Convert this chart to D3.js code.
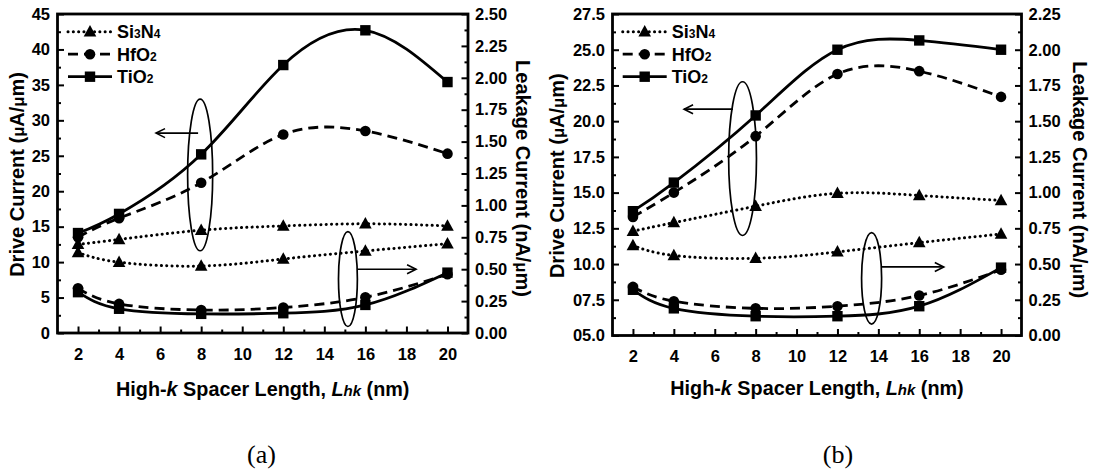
<!DOCTYPE html>
<html>
<head>
<meta charset="utf-8">
<script src="https://cdn.jsdelivr.net/npm/d3@7"></script>
<style>
  html, body { margin: 0; padding: 0; background: #fff; }
  svg { display: block; font-family: "Liberation Sans", Arial, sans-serif; }
</style>
</head>
<body>
<svg id="chart" width="1097" height="472"></svg>
<script>
// Spacer lengths (nm) at which each device was simulated
const spacerLength = [2, 4, 8, 12, 16, 20];

// Panel (a): drive current (uA/um)
const driveA_Si3N4 = [12.5, 13.2, 14.5, 15.1, 15.4, 15.1];
const driveA_HfO2  = [13.5, 16.2, 21.2, 28.0, 28.5, 25.3];
const driveA_TiO2  = [14.1, 16.8, 25.2, 37.8, 42.7, 35.4];
// Panel (a): leakage current (nA/um)
const leakA_Si3N4 = [0.63, 0.555, 0.525, 0.58, 0.643, 0.70];
const leakA_HfO2  = [0.35, 0.228, 0.18, 0.20, 0.28, 0.46];
const leakA_TiO2  = [0.32, 0.19, 0.15, 0.155, 0.22, 0.473];

// Panel (b): drive current (uA/um)
const driveB_Si3N4 = [12.3, 12.9, 14.05, 14.95, 14.8, 14.45];
const driveB_HfO2  = [13.3, 15.0, 18.95, 23.3, 23.5, 21.7];
const driveB_TiO2  = [13.7, 15.7, 20.4, 25.0, 25.65, 25.0];
// Panel (b): leakage current (nA/um)
const leakB_Si3N4 = [0.63, 0.56, 0.54, 0.585, 0.65, 0.71];
const leakB_HfO2  = [0.34, 0.24, 0.19, 0.205, 0.28, 0.46];
const leakB_TiO2  = [0.32, 0.19, 0.135, 0.135, 0.205, 0.475];

// Axis tick labels
const xTickLabels = [2, 4, 6, 8, 10, 12, 14, 16, 18, 20];
const leftTicksA  = [0, 5, 10, 15, 20, 25, 30, 35, 40, 45];
const rightTicksA = [0, 0.25, 0.5, 0.75, 1.0, 1.25, 1.5, 1.75, 2.0, 2.25, 2.5];
const leftTicksB  = [5, 7.5, 10, 12.5, 15, 17.5, 20, 22.5, 25, 27.5];
const rightTicksB = [0, 0.25, 0.5, 0.75, 1.0, 1.25, 1.5, 1.75, 2.0, 2.25];

const materials = ["Si3N4", "HfO2", "TiO2"];

const svg = d3.select("#chart");

const styleOf = {
  Si3N4: { dash: "0.1,5.2", width: 3, cap: "round", marker: "triangle" },
  HfO2:  { dash: "10,6", width: 2.8, cap: "butt", marker: "circle" },
  TiO2:  { dash: null, width: 2.8, cap: "butt", marker: "square" }
};

function drawMarker(g, type, x, y) {
  if (type === "circle") {
    g.append("circle").attr("cx", x).attr("cy", y).attr("r", 5.3).attr("fill", "#000");
  } else if (type === "square") {
    g.append("rect").attr("x", x - 5.2).attr("y", y - 5.2).attr("width", 10.4).attr("height", 10.4).attr("fill", "#000");
  } else {
    g.append("path")
      .attr("d", `M${x},${y - 6.8}L${x + 6.3},${y + 4.7}L${x - 6.3},${y + 4.7}Z`)
      .attr("fill", "#000");
  }
}

function subText(sel, parts, subSize) {
  parts.forEach(p => {
    const t = sel.append("tspan").text(p.t);
    if (p.sub) t.attr("font-size", subSize);
    if (p.it) t.attr("font-style", "italic");
  });
}

function drawPanel(cfg) {
  const { x0, x1, y0, y1 } = cfg.box;
  const g = svg.append("g");

  const x = d3.scaleLinear().domain([1, 21]).range([x0, x1]);
  const yL = d3.scaleLinear().domain(cfg.leftDomain).range([y1, y0]);
  const yR = d3.scaleLinear().domain(cfg.rightDomain).range([y1, y0]);

  // Minor ticks
  const minorX = d3.range(3, 21, 2);
  g.append("g").attr("transform", `translate(0,${y1})`)
    .call(d3.axisBottom(x).tickValues(minorX).tickSize(-3.5).tickFormat(""))
    .call(s => s.select(".domain").remove());
  const lStep = cfg.leftTicks[1] - cfg.leftTicks[0];
  const minorL = cfg.leftTicks.slice(0, -1).map(v => v + lStep / 2);
  g.append("g").attr("transform", `translate(${x0},0)`)
    .call(d3.axisLeft(yL).tickValues(minorL).tickSize(-3.5).tickFormat(""))
    .call(s => s.select(".domain").remove());
  const rStep = cfg.rightTicks[1] - cfg.rightTicks[0];
  const minorR = cfg.rightTicks.slice(0, -1).map(v => v + rStep / 2);
  g.append("g").attr("transform", `translate(${x1},0)`)
    .call(d3.axisRight(yR).tickValues(minorR).tickSize(-3.5).tickFormat(""))
    .call(s => s.select(".domain").remove());

  // Major ticks with labels
  const ax = g.append("g").attr("transform", `translate(0,${y1})`)
    .call(d3.axisBottom(x).tickValues(xTickLabels).tickSize(-6.5).tickPadding(15).tickFormat(d3.format("d")));
  const al = g.append("g").attr("transform", `translate(${x0},0)`)
    .call(d3.axisLeft(yL).tickValues(cfg.leftTicks).tickSize(-6.5).tickPadding(7.5).tickFormat(cfg.leftFormat));
  const ar = g.append("g").attr("transform", `translate(${x1},0)`)
    .call(d3.axisRight(yR).tickValues(cfg.rightTicks).tickSize(-6.5).tickPadding(7).tickFormat(d3.format(".2f")));
  [ax, al, ar].forEach(a => {
    a.select(".domain").remove();
    a.selectAll(".tick text").attr("font-size", 16.5).attr("font-weight", "bold").attr("fill", "#000")
      .attr("font-family", "'Liberation Sans', Arial, sans-serif");
  });
  g.selectAll(".tick line").attr("stroke", "#000").attr("stroke-width", 2);

  // Frame
  g.append("rect").attr("x", x0).attr("y", y0).attr("width", x1 - x0).attr("height", y1 - y0)
    .attr("fill", "none").attr("stroke", "#000").attr("stroke-width", 2.8);

  // Series
  const series = [];
  materials.forEach(m => series.push({ m, vals: cfg.drive[m], y: yL }));
  materials.forEach(m => series.push({ m, vals: cfg.leak[m], y: yR }));
  series.forEach(s => {
    const st = styleOf[s.m];
    const pts = spacerLength.map((v, i) => [x(v), s.y(s.vals[i])]);
    const line = d3.line().curve(d3.curveNatural);
    g.append("path").attr("d", line(pts)).attr("fill", "none").attr("stroke", "#000")
      .attr("stroke-width", st.width).attr("stroke-linecap", st.cap)
      .attr("stroke-dasharray", st.dash);
    pts.forEach(p => drawMarker(g, st.marker, p[0], p[1]));
  });

  // Annotation ellipses with arrows pointing to their axes
  cfg.notes.forEach(n => {
    const ys = n.axis === "left" ? yL : yR;
    const cx = x(n.cx), cy = ys(n.cy);
    const rx = Math.abs(x(n.cx + n.rx) - cx), ry = Math.abs(ys(n.cy + n.ry) - cy);
    g.append("ellipse").attr("cx", cx).attr("cy", cy).attr("rx", rx).attr("ry", ry)
      .attr("fill", "none").attr("stroke", "#000").attr("stroke-width", 1.7);
    const ax0 = x(n.from), ax1 = x(n.to), ay = ys(n.ay);
    const dir = ax1 > ax0 ? 1 : -1;
    g.append("line").attr("x1", ax0).attr("y1", ay).attr("x2", ax1).attr("y2", ay)
      .attr("stroke", "#000").attr("stroke-width", 1.6);
    g.append("path")
      .attr("d", `M${ax1 - dir * 9},${ay - 4.5}L${ax1},${ay}L${ax1 - dir * 9},${ay + 4.5}`)
      .attr("fill", "none").attr("stroke", "#000").attr("stroke-width", 1.6);
  });

  // Legend
  const legendLabels = {
    Si3N4: [{ t: "Si" }, { t: "3", sub: true }, { t: "N" }, { t: "4", sub: true }],
    HfO2: [{ t: "HfO" }, { t: "2", sub: true }],
    TiO2: [{ t: "TiO" }, { t: "2", sub: true }]
  };
  materials.forEach((m, i) => {
    const st = styleOf[m];
    const ly = cfg.legend.y + i * 22.5;
    g.append("line").attr("x1", cfg.legend.x).attr("x2", cfg.legend.x + 44)
      .attr("y1", ly).attr("y2", ly).attr("stroke", "#000").attr("stroke-width", st.width)
      .attr("stroke-linecap", st.cap).attr("stroke-dasharray", st.dash);
    drawMarker(g, st.marker, cfg.legend.x + 22, ly);
    const t = g.append("text").attr("x", cfg.legend.x + 49).attr("y", ly + 6.5)
      .attr("font-size", 18).attr("font-weight", "bold");
    subText(t, legendLabels[m], 12);
  });

  // Axis titles
  const xt = g.append("text").attr("x", (x0 + x1) / 2).attr("y", cfg.xTitleY)
    .attr("text-anchor", "middle").attr("font-size", 19.8).attr("font-weight", "bold");
  subText(xt, [{ t: "High-" }, { t: "k", it: true }, { t: " Spacer Length, " }, { t: "L", it: true },
    { t: "hk", it: true, sub: true }, { t: " (nm)" }], 15);

  const cyMid = (y0 + y1) / 2;
  const lt = g.append("text")
    .attr("transform", `translate(${cfg.leftTitleX},${cyMid + 1}) rotate(-90)`)
    .attr("text-anchor", "middle").attr("font-size", 20).attr("font-weight", "bold");
  subText(lt, [{ t: "Drive Current (" }, { t: "μ", sub: true }, { t: "A/" }, { t: "μ", sub: true }, { t: "m)" }], 16.5);

  const rt = g.append("text")
    .attr("transform", `translate(${cfg.rightTitleX},${cyMid + 5}) rotate(90)`)
    .attr("text-anchor", "middle").attr("font-size", 20).attr("font-weight", "bold");
  subText(rt, [{ t: "Leakage Current (nA/" }, { t: "μ", sub: true }, { t: "m)" }], 16.5);

  // Panel caption
  svg.append("text").attr("x", cfg.caption.x).attr("y", cfg.caption.y)
    .attr("text-anchor", "middle").attr("font-family", "'Liberation Serif', 'Times New Roman', serif")
    .attr("font-size", 26).text(cfg.caption.text);
}

drawPanel({
  box: { x0: 57.5, x1: 468, y0: 14, y1: 333 },
  leftDomain: [0, 45], rightDomain: [0, 2.5],
  leftTicks: leftTicksA, rightTicks: rightTicksA,
  leftFormat: d3.format("d"),
  drive: { Si3N4: driveA_Si3N4, HfO2: driveA_HfO2, TiO2: driveA_TiO2 },
  leak: { Si3N4: leakA_Si3N4, HfO2: leakA_HfO2, TiO2: leakA_TiO2 },
  notes: [
    { axis: "left", cx: 7.95, cy: 22.3, rx: 0.61, ry: 10.7, from: 7.85, to: 5.8, ay: 28.2 },
    { axis: "right", cx: 15.15, cy: 0.423, rx: 0.46, ry: 0.372, from: 15.6, to: 18.47, ay: 0.5 }
  ],
  legend: { x: 68, y: 31.7 },
  xTitleY: 396, leftTitleX: 24, rightTitleX: 516,
  caption: { x: 261.5, y: 463, text: "(a)" }
});

drawPanel({
  box: { x0: 612.5, x1: 1021.5, y0: 14, y1: 335.5 },
  leftDomain: [5, 27.5], rightDomain: [0, 2.25],
  leftTicks: leftTicksB, rightTicks: rightTicksB,
  leftFormat: d3.format("04.1f"),
  drive: { Si3N4: driveB_Si3N4, HfO2: driveB_HfO2, TiO2: driveB_TiO2 },
  leak: { Si3N4: leakB_Si3N4, HfO2: leakB_HfO2, TiO2: leakB_TiO2 },
  notes: [
    { axis: "left", cx: 7.36, cy: 17.38, rx: 0.68, ry: 5.38, from: 6.89, to: 4.5, ay: 20.84 },
    { axis: "right", cx: 13.67, cy: 0.40, rx: 0.49, ry: 0.32, from: 14.16, to: 17.2, ay: 0.48 }
  ],
  legend: { x: 622.7, y: 31.7 },
  xTitleY: 395, leftTitleX: 564, rightTitleX: 1073,
  caption: { x: 838, y: 463, text: "(b)" }
});
</script>
</body>
</html>
